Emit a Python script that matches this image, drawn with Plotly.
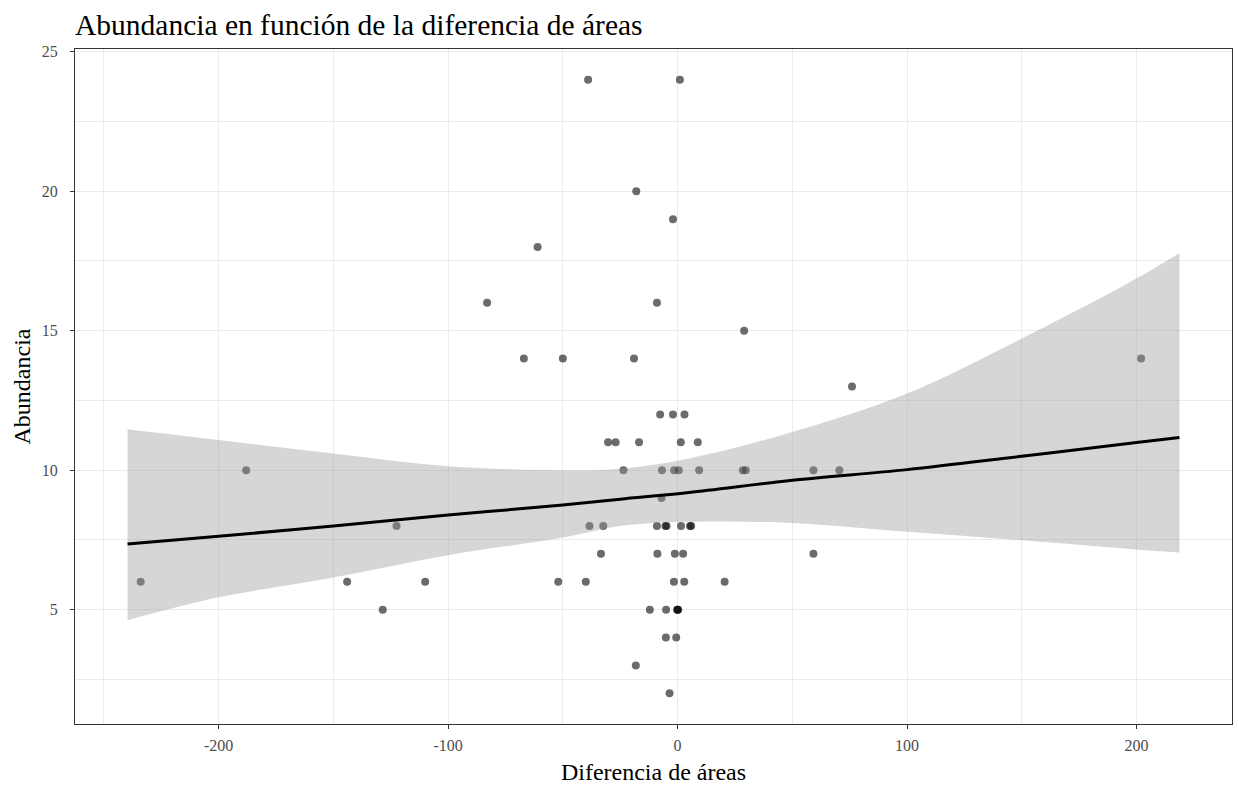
import plotly.graph_objects as go

# Observations: difference of areas vs. abundance
dif_areas = [
    -39, 1,
    -18,
    -2,
    -61,
    -83, -9,
    29,
    -67, -50, -19, 202,
    76,
    -7.6, -2, 3,
    -30.3, -27, -16.8, 1.4, 8.8,
    -188, -23.6, -6.8, -1.5, 0.5, 9.4, 28.4, 29.7, 59.2, 70.5,
    -7,
    -122.5, -38.4, -32.4, -9.0, -5.3, -4.8, 1.5, 5.4, 5.9,
    -33.4, -8.8, -1.2, 2.4, 59.2,
    -234, -144, -110, -52, -40, -1.6, 2.9, 20.5,
    -128.5, -12.1, -5.0, -0.2, 0.0, 0.3,
    -5.1, -0.6,
    -18.2,
    -3.5,
]
abundancia = [
    24, 24,
    20,
    19,
    18,
    16, 16,
    15,
    14, 14, 14, 14,
    13,
    12, 12, 12,
    11, 11, 11, 11, 11,
    10, 10, 10, 10, 10, 10, 10, 10, 10, 10,
    9,
    8, 8, 8, 8, 8, 8, 8, 8, 8,
    7, 7, 7, 7, 7,
    6, 6, 6, 6, 6, 6, 6, 6,
    5, 5, 5, 5, 5, 5,
    4, 4,
    3,
    2,
]

# Fitted trend and its confidence band
fit_x = [-239.7, -200, -150, -100, -50, -25, 5, 50, 100, 150, 200, 218.7]
fit_y = [7.35, 7.63, 8.00, 8.39, 8.75, 8.96, 9.20, 9.64, 10.02, 10.50, 10.99, 11.17]
fit_lo = [4.62, 5.44, 6.15, 6.95, 7.59, 8.00, 8.15, 8.11, 7.79, 7.49, 7.16, 7.05]
fit_hi = [11.47, 11.08, 10.60, 10.14, 10.00, 10.05, 10.42, 11.37, 12.75, 14.72, 16.87, 17.79]

x_ticks = [-200, -100, 0, 100, 200]
y_ticks = [5, 10, 15, 20, 25]

SERIF = "Liberation Serif, Times New Roman, serif"

fig = go.Figure()

fig.add_trace(go.Scatter(
    x=dif_areas, y=abundancia, mode="markers",
    marker=dict(size=8, color="rgba(0,0,0,0.58)", line=dict(width=0)),
    showlegend=False, hoverinfo="x+y",
))

fig.add_trace(go.Scatter(
    x=fit_x, y=fit_lo, mode="lines", line=dict(width=0, shape="spline"),
    showlegend=False, hoverinfo="skip",
))
fig.add_trace(go.Scatter(
    x=fit_x, y=fit_hi, mode="lines", line=dict(width=0, shape="spline"),
    fill="tonexty", fillcolor="rgba(153,153,153,0.4)",
    showlegend=False, hoverinfo="skip",
))
fig.add_trace(go.Scatter(
    x=fit_x, y=fit_y, mode="lines", line=dict(color="black", width=3, shape="spline"),
    showlegend=False, hoverinfo="skip",
))

axis_common = dict(
    showline=True, linecolor="#333333", linewidth=1.3, mirror=True,
    ticks="outside", ticklen=4, tickcolor="#333333", tickwidth=1.2,
    showgrid=True, gridcolor="#EBEBEB", gridwidth=1.4,
    zeroline=False,
    tickfont=dict(family=SERIF, size=16, color="#4D4D4D"),
)

fig.update_xaxes(
    range=[-262.6, 241.6], tickvals=x_ticks, ticktext=[str(v) for v in x_ticks],
    ticklabelstandoff=3,
    minor=dict(dtick=100, tick0=-250, showgrid=True, gridcolor="#EBEBEB", gridwidth=0.8, ticks=""),
    title=dict(text="Diferencia de áreas", font=dict(family=SERIF, size=24, color="black"), standoff=9),
    **axis_common,
)
fig.update_yaxes(
    range=[0.9, 25.1], tickvals=y_ticks, ticktext=[str(v) for v in y_ticks],
    ticklabelstandoff=9,
    minor=dict(dtick=5, tick0=2.5, showgrid=True, gridcolor="#EBEBEB", gridwidth=0.8, ticks=""),
    title=dict(text="Abundancia", font=dict(family=SERIF, size=24, color="black"), standoff=4),
    **axis_common,
)

fig.update_layout(
    width=1238, height=787,
    margin=dict(l=75, r=6, t=49, b=63),
    paper_bgcolor="white", plot_bgcolor="white",
    title=dict(
        text="Abundancia en función de la diferencia de áreas",
        font=dict(family=SERIF, size=29.5, color="black"),
        x=0.0, xref="paper", xanchor="left",
        y=1 - 25 / 787, yref="container", yanchor="middle",
    ),
    showlegend=False,
)

fig.write_html("out.html")
